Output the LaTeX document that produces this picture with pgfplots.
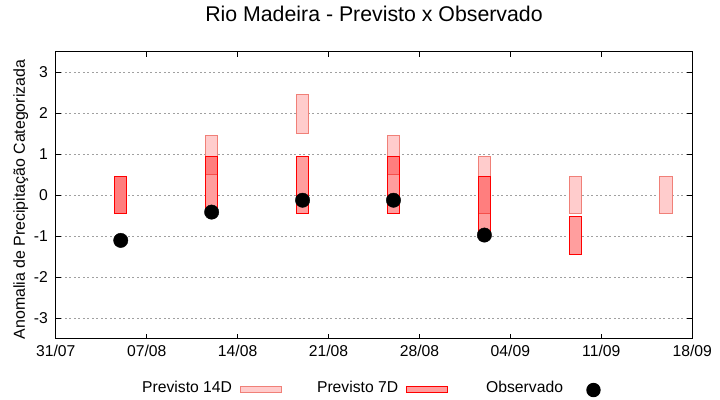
\documentclass[border=0pt]{standalone}
\usepackage{fontspec}
\setmainfont{Liberation Sans}
\usepackage{pgfplots}
\pgfplotsset{compat=1.18}

\definecolor{borda14}{RGB}{240,128,120}
\definecolor{grade}{RGB}{160,160,160}

\pgfplotsset{
  p14/.style={fill=red, fill opacity=0.2, draw=borda14, line width=1bp},
  p7/.style={fill=red, fill opacity=0.38, draw=red, line width=1bp},
  fundo/.style={fill=white, draw=none},
  caixaleg/.style={legend image code/.code={\draw[##1] (0bp,-5.3bp) rectangle (41bp,1.3bp);}},
  pontoleg/.style={legend image code/.code={\path[draw=none, fill=none] (0bp,0bp) -- (41bp,0bp); \fill[black, draw=none] (22.5bp,-2.5bp) circle (7.2bp);}},
}
% caixa: x esquerdo, x direito, inferior, superior, estilo
\newcommand{\caixa}[5]{\addplot[#5, mark=none, forget plot] coordinates {(#1,#3) (#2,#3) (#2,#4) (#1,#4)} -- cycle;}

\newcommand{\fonte}{\fontsize{15.7bp}{18bp}\selectfont}

\begin{document}
\begin{tikzpicture}
\useasboundingbox (0,0) rectangle (720bp,400bp);
\begin{axis}[
  at={(55.8bp,61.2bp)}, anchor=south west,
  scale only axis, width=636.4bp, height=287bp,
  xmin=0, xmax=49, ymin=-3.5, ymax=3.5,
  xtick={0,7,14,21,28,35,42,49},
  xticklabels={31/07,07/08,14/08,21/08,28/08,04/09,11/09,18/09},
  ytick={-3,-2,-1,0,1,2,3},
  yticklabels={-3,-2,-1,0,1,2,3},
  tick align=inside, major tick length=5bp,
  tick style={black, line width=1bp},
  axis line style={line width=1bp},
  ymajorgrids,
  major grid style={grade, dash pattern=on 2bp off 2.5bp, line width=1bp},
  tick label style={font=\fonte},
  xticklabel style={yshift=-3bp},
  yticklabel style={xshift=-4.5bp},
  title={Rio Madeira - Previsto x Observado},
  title style={font=\fontsize{21.3bp}{24bp}\selectfont, at={(axis description cs:0.5,1.084)}, anchor=base},
  ylabel={Anomalia de Precipitação Categorizada},
  ylabel style={font=\fontsize{15.9bp}{18bp}\selectfont, at={(axis description cs:-0.0484,0.4854)}, anchor=base},
  legend plot pos=right,
  legend columns=3,
  legend style={at={(axis description cs:0.1354,-0.172)}, anchor=west, draw=none, fill=none,
    inner sep=0pt, font=\fonte, nodes={inner xsep=0pt},
    /tikz/column sep=8bp,
    /tikz/every even column/.append style={column sep=35bp}},
]
% fundo branco (esconde a grade)
\caixa{4.52}{5.48}{-0.45}{0.45}{fundo}
\caixa{11.52}{12.48}{-0.45}{1.45}{fundo}
\caixa{18.52}{19.48}{-0.45}{0.95}{fundo}
\caixa{18.52}{19.48}{1.5}{2.45}{fundo}
\caixa{25.52}{26.48}{-0.45}{1.45}{fundo}
\caixa{32.52}{33.48}{-0.95}{0.95}{fundo}
\caixa{39.52}{40.48}{-1.45}{0.45}{fundo}
\caixa{46.52}{47.48}{-0.45}{0.45}{fundo}
% Previsto 14D
\caixa{4.52}{5.48}{-0.45}{0.45}{p14}
\caixa{11.52}{12.48}{0.5}{1.45}{p14}
\caixa{18.52}{19.48}{1.5}{2.45}{p14}
\caixa{25.52}{26.48}{0.5}{1.45}{p14}
\caixa{32.52}{33.48}{-0.45}{0.95}{p14}
\caixa{39.52}{40.48}{-0.45}{0.45}{p14}
\caixa{46.52}{47.48}{-0.45}{0.45}{p14}
% Previsto 7D
\caixa{4.52}{5.48}{-0.45}{0.45}{p7}
\caixa{11.52}{12.48}{-0.45}{0.95}{p7}
\caixa{18.52}{19.48}{-0.45}{0.95}{p7}
\caixa{25.52}{26.48}{-0.45}{0.95}{p7}
\caixa{32.52}{33.48}{-0.95}{0.45}{p7}
\caixa{39.52}{40.48}{-1.45}{-0.52}{p7}

\addlegendimage{p14, caixaleg}
\addlegendentry{Previsto 14D}
\addlegendimage{p7, caixaleg}
\addlegendentry{Previsto 7D}

% Observado
\addplot[only marks, mark=*, mark size=7.2bp, black, pontoleg]
  coordinates {(5,-1.10) (12,-0.41) (19,-0.12) (26,-0.12) (33,-0.97)};
\addlegendentry{\hspace*{3bp}Observado}
\end{axis}
\end{tikzpicture}
\end{document}
